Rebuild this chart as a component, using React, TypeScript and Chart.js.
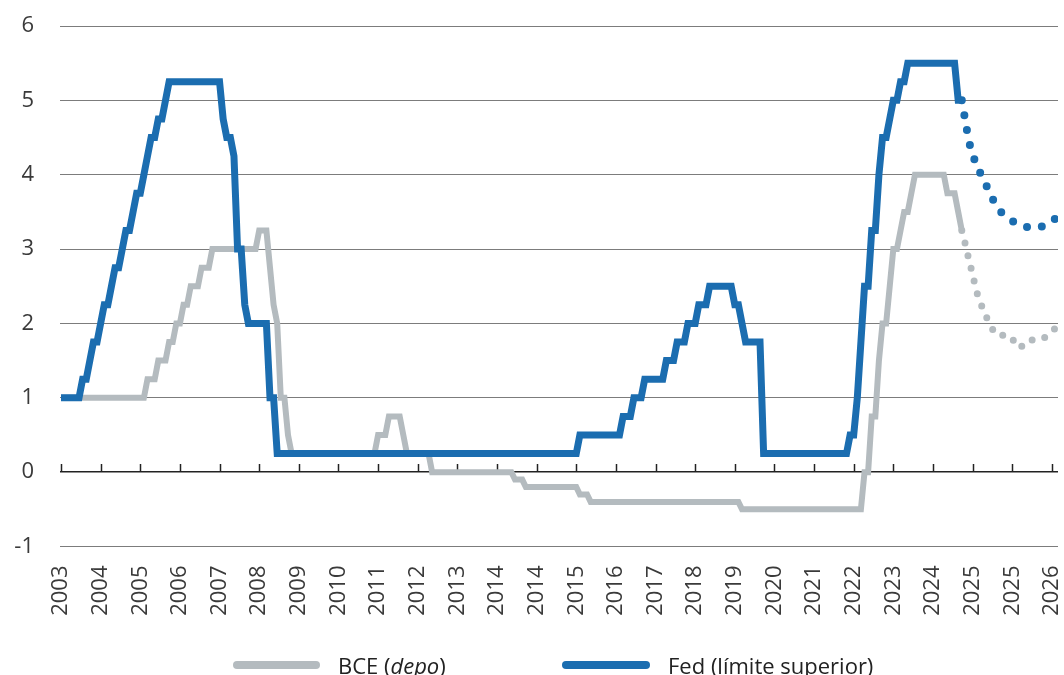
import React, { useEffect, useRef } from 'react';
import { Chart, registerables } from 'chart.js';

Chart.register(...registerables);

// ---- Axis labels ----
const xTickLabels = [
  '2003', '2004', '2005', '2006', '2007', '2008', '2009', '2010', '2011', '2012', '2013',
  '2014', '2014', '2015', '2016', '2017', '2018', '2019', '2020', '2021', '2022', '2023',
  '2024', '2025', '2025', '2026',
];
const axisStartMonth = '2003-12'; // month of the first tick label
const monthsPerLabel = 11;
const yMin = -1;
const yMax = 6;

// ---- Fed funds target, upper bound (date of change, new rate) ----
const fedDates = [
  '2003-12', '2004-06', '2004-08', '2004-09', '2004-11', '2004-12', '2005-02', '2005-03',
  '2005-05', '2005-06', '2005-08', '2005-09', '2005-11', '2005-12', '2006-01', '2006-03',
  '2006-05', '2006-06', '2007-09', '2007-10', '2007-12', '2008-01', '2008-03', '2008-04',
  '2008-10', '2008-12', '2015-12', '2016-12', '2017-03', '2017-06', '2017-12', '2018-03',
  '2018-06', '2018-09', '2018-12', '2019-07', '2019-09', '2019-10', '2020-03', '2022-03',
  '2022-05', '2022-06', '2022-07', '2022-09', '2022-11', '2022-12', '2023-02', '2023-03',
  '2023-05', '2023-07', '2024-09',
];
const fedRates = [
  1.0, 1.25, 1.5, 1.75, 2.0, 2.25, 2.5, 2.75,
  3.0, 3.25, 3.5, 3.75, 4.0, 4.25, 4.5, 4.75,
  5.0, 5.25, 4.75, 4.5, 4.25, 3.0, 2.25, 2.0,
  1.0, 0.25, 0.5, 0.75, 1.0, 1.25, 1.5, 1.75,
  2.0, 2.25, 2.5, 2.25, 2.0, 1.75, 0.25, 0.5,
  1.0, 1.75, 2.5, 3.25, 4.0, 4.5, 4.75, 5.0,
  5.25, 5.5, 5.0,
];

// ---- ECB deposit facility rate (date of change, new rate) ----
const ecbDates = [
  '2003-12', '2005-12', '2006-03', '2006-06', '2006-08', '2006-10', '2006-12', '2007-03',
  '2007-06', '2008-07', '2008-10', '2008-11', '2008-12', '2009-01', '2009-03', '2009-04',
  '2011-04', '2011-07', '2011-11', '2011-12', '2012-07', '2014-06', '2014-09', '2015-12',
  '2016-03', '2019-09', '2022-07', '2022-09', '2022-11', '2022-12', '2023-02', '2023-03',
  '2023-05', '2023-06', '2023-08', '2023-09', '2024-06', '2024-09', '2024-10',
];
const ecbRates = [
  1.0, 1.25, 1.5, 1.75, 2.0, 2.25, 2.5, 2.75,
  3.0, 3.25, 2.75, 2.25, 2.0, 1.0, 0.5, 0.25,
  0.5, 0.75, 0.5, 0.25, 0.0, -0.1, -0.2, -0.3,
  -0.4, -0.5, 0.0, 0.75, 1.5, 2.0, 2.5, 3.0,
  3.25, 3.5, 3.75, 4.0, 3.75, 3.5, 3.25,
];
const lastObserved = '2024-10';

// ---- Market-implied paths (dotted) ----
const fedForecastDates = [
  '2024-10', '2024-11', '2024-12', '2025-01', '2025-02', '2025-04', '2025-06', '2025-08',
  '2025-11', '2026-03', '2026-07', '2026-11', '2026-12',
];
const fedForecastRates = [5.0, 4.72, 4.45, 4.28, 4.14, 3.94, 3.73, 3.55, 3.41, 3.31, 3.29, 3.38, 3.41];

const ecbForecastDates = [
  '2024-10', '2024-11', '2024-12', '2025-01', '2025-02', '2025-03', '2025-04', '2025-06',
  '2025-08', '2025-11', '2026-02', '2026-04', '2026-07', '2026-10', '2026-12',
];
const ecbForecastRates = [3.25, 3.06, 2.85, 2.66, 2.45, 2.3, 2.18, 1.97, 1.84, 1.84, 1.67, 1.77, 1.78, 1.84, 1.94];

// ---- Styles ----
const BLUE = '#1b6db0';
const GRAY = '#b4bbbf';
const GRID = '#7c7c7c';
const AXIS = '#222222';
const TEXT = '#3a3a3a';
const FONT = "'Open Sans', 'Noto Sans', sans-serif";

const toMonth = (d: string) => {
  const [y, m] = d.split('-').map(Number);
  const [y0, m0] = axisStartMonth.split('-').map(Number);
  return (y - y0) * 12 + (m - m0);
};

// monthly step series: the rate holds until the month before each change
const stepSeries = (dates: string[], rates: number[], end: string) => {
  const pts: { x: number; y: number }[] = [];
  dates.forEach((d, i) => {
    const m = toMonth(d);
    if (i > 0) pts.push({ x: m - 1, y: rates[i - 1] });
    pts.push({ x: m, y: rates[i] });
  });
  pts.push({ x: toMonth(end), y: rates[rates.length - 1] });
  return pts;
};

const pathSeries = (dates: string[], rates: number[]) =>
  dates.map((d, i) => ({ x: toMonth(d), y: rates[i] }));

const zeroAxisTicks = {
  id: 'zeroAxisTicks',
  beforeDatasetsDraw(chart: any) {
    const { ctx, scales } = chart;
    const x = scales.x;
    const y = scales.y;
    const y0 = Math.round(y.getPixelForValue(0));
    ctx.save();
    ctx.strokeStyle = AXIS;
    ctx.lineWidth = 1.5;
    x.ticks.forEach((t: any) => {
      const px = Math.round(x.getPixelForValue(t.value)) + 0.5;
      ctx.beginPath();
      ctx.moveTo(px, y0);
      ctx.lineTo(px, y0 - 8);
      ctx.stroke();
    });
    ctx.restore();
  },
};

export default function App() {
  const ref = useRef<HTMLCanvasElement | null>(null);

  useEffect(() => {
    if (!ref.current) return;
    const lastTick = (xTickLabels.length - 1) * monthsPerLabel;
    const chart = new Chart(ref.current, {
      type: 'line',
      data: {
        datasets: [
          {
            label: 'Fed (límite superior)',
            data: stepSeries(fedDates, fedRates, lastObserved),
            borderColor: BLUE,
            borderWidth: 7,
            pointRadius: 0,
            order: 0,
          },
          {
            label: 'Fed (mercado)',
            data: pathSeries(fedForecastDates, fedForecastRates),
            borderColor: BLUE,
            borderWidth: 8,
            borderDash: [0, 15],
            borderCapStyle: 'round',
            cubicInterpolationMode: 'monotone',
            pointRadius: 0,
            order: 0,
          },
          {
            label: 'BCE (depo)',
            data: stepSeries(ecbDates, ecbRates, lastObserved),
            borderColor: GRAY,
            borderWidth: 6,
            pointRadius: 0,
            order: 1,
          },
          {
            label: 'BCE (mercado)',
            data: pathSeries(ecbForecastDates, ecbForecastRates),
            borderColor: GRAY,
            borderWidth: 7,
            borderDash: [0, 13],
            borderCapStyle: 'round',
            cubicInterpolationMode: 'monotone',
            pointRadius: 0,
            order: 1,
          },
        ],
      },
      options: {
        animation: false,
        responsive: false,
        parsing: false as any,
        normalized: true,
        events: [],
        layout: { padding: { top: 26, right: 6, left: 0, bottom: 0 } },
        plugins: {
          legend: { display: false },
          tooltip: { enabled: false },
        },
        scales: {
          x: {
            type: 'linear',
            min: -0.28,
            max: lastTick + 1.7,
            afterBuildTicks: (s: any) => {
              s.ticks = xTickLabels.map((_, i) => ({ value: i * monthsPerLabel }));
            },
            afterFit: (s: any) => {
              s.height = 128.5;
              s.paddingLeft = 0;
              s.paddingRight = 0;
            },
            grid: { display: false },
            border: { display: false },
            ticks: {
              autoSkip: false,
              minRotation: 90,
              maxRotation: 90,
              padding: 11,
              color: TEXT,
              font: { family: FONT, size: 22 },
              callback: (v: any) => xTickLabels[Math.round(Number(v) / monthsPerLabel)],
            },
          },
          y: {
            min: yMin,
            max: yMax,
            afterFit: (s: any) => {
              s.width = 60;
              s.paddingTop = 0;
              s.paddingBottom = 0;
            },
            border: { display: false },
            grid: {
              drawTicks: false,
              color: (c: any) => (c.tick && c.tick.value === 0 ? AXIS : GRID),
              lineWidth: (c: any) => (c.tick && c.tick.value === 0 ? 1.6 : 1),
            },
            ticks: {
              stepSize: 1,
              padding: 26,
              color: TEXT,
              font: { family: FONT, size: 22 },
            },
          },
        },
      },
      plugins: [zeroAxisTicks],
    });
    return () => chart.destroy();
  }, []);

  const legendText: React.CSSProperties = {
    position: 'absolute',
    top: 648,
    fontFamily: FONT,
    fontSize: 22,
    lineHeight: '34px',
    color: '#222',
    whiteSpace: 'nowrap',
  };
  const swatch: React.CSSProperties = {
    position: 'absolute',
    top: 661,
    height: 8,
    borderRadius: 4,
  };

  return (
    <div
      style={{
        position: 'fixed',
        left: 0,
        top: 0,
        width: 1064,
        height: 675,
        background: '#fff',
        overflow: 'hidden',
      }}
    >
      <canvas ref={ref} width={1064} height={675} style={{ display: 'block' }} />
      <div style={{ ...swatch, left: 233, width: 87, background: GRAY }} />
      <div style={{ ...legendText, left: 338 }}>
        BCE (<i>depo</i>)
      </div>
      <div style={{ ...swatch, left: 562, width: 88, background: BLUE }} />
      <div style={{ ...legendText, left: 668 }}>Fed (límite superior)</div>
    </div>
  );
}
